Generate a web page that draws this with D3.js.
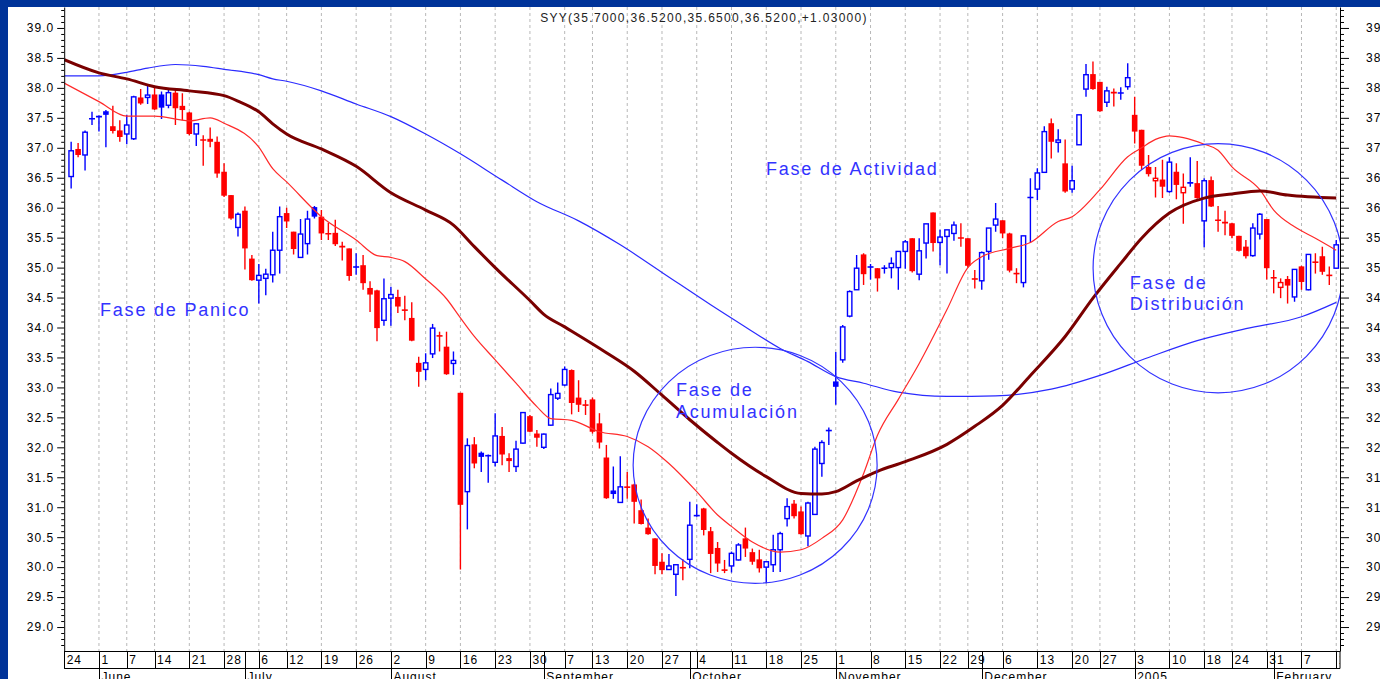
<!DOCTYPE html>
<html><head><meta charset="utf-8">
<script src="https://cdn.jsdelivr.net/npm/d3@7"></script>
<style>
html,body{margin:0;padding:0;background:#fff;overflow:hidden}
svg{display:block}
</style></head><body>
<svg id="c" width="1380" height="679"></svg>
<script>
// ---------------- DATA ----------------
const title = "SYY(35.7000,36.5200,35.6500,36.5200,+1.03000)";
const startDate = "2004-05-24", endDate = "2005-02-14";
const holidays = ["2004-05-31","2004-06-11","2004-07-05","2004-09-06","2004-11-25","2004-12-24","2005-01-17"];
const firstCandleIndex = 1; // candles start on 2004-05-25
const monthLabels = ["2005","February","March","April","May","June","July","August","September","October","November","December"];

const opens = [36.52,36.98,36.88,37.47,37.51,37.61,37.36,37.29,37.23,37.15,
37.84,37.84,37.89,37.89,37.71,37.92,37.70,37.59,37.23,37.14,
37.15,37.10,36.60,36.21,35.67,35.95,35.15,34.79,34.82,34.88,
35.29,35.91,35.60,35.17,35.40,36.01,35.85,35.58,35.58,35.36,
35.32,35.00,35.04,34.66,34.62,34.12,34.49,34.51,34.30,34.16,
33.41,33.30,33.56,33.87,33.68,33.40,32.91,31.26,32.05,31.91,
31.85,31.75,32.19,31.82,31.68,32.07,32.52,32.23,32.00,32.37,
32.82,33.04,33.29,32.83,32.72,32.80,32.40,31.83,31.28,31.08,
31.35,31.38,30.95,30.66,30.48,30.09,29.96,29.88,30.00,30.13,
30.85,30.98,30.60,30.32,29.96,30.02,30.12,30.48,30.25,30.13,
30.00,30.04,30.29,30.81,31.06,30.93,30.52,30.88,31.73,32.27,
33.10,33.46,34.19,34.63,35.22,35.00,34.99,34.98,35.00,35.00,
35.27,35.49,34.89,35.41,35.92,35.42,35.52,35.57,35.50,35.49,
34.82,34.78,35.27,35.71,35.79,35.57,34.91,34.75,36.16,36.31,
36.59,37.41,37.09,36.74,36.31,37.05,37.98,38.23,38.10,37.76,
37.93,37.90,38.02,37.55,37.30,36.68,36.45,36.47,36.27,36.60,
36.25,36.40,36.41,35.78,36.46,35.80,35.76,35.74,35.53,35.35,
35.20,35.56,35.81,34.84,34.67,34.81,34.51,35.02,34.63,35.10,
35.19,34.88,34.99];
const highs = [37.10,37.08,37.29,37.60,37.54,37.63,37.70,37.46,37.55,37.87,
37.98,38.04,38.02,37.94,37.97,37.97,37.91,37.60,37.41,37.21,
37.34,37.19,36.74,36.21,35.92,36.02,35.21,35.06,34.98,35.60,
36.02,36.00,35.60,35.81,35.95,36.03,35.96,35.75,35.80,35.43,
35.32,35.24,35.21,34.77,34.63,34.82,34.68,34.63,34.53,34.42,
33.51,33.57,34.06,33.93,33.93,33.60,32.91,32.15,32.17,31.93,
31.88,32.57,32.34,31.90,32.11,32.59,32.54,32.29,32.23,32.98,
33.08,33.35,33.30,33.12,32.79,32.83,32.57,32.04,31.68,31.85,
31.59,31.39,31.13,30.81,30.48,30.23,30.22,30.04,30.13,31.09,
31.05,30.99,30.67,30.42,30.12,30.26,30.40,30.66,30.31,30.29,
30.10,30.54,30.59,31.15,31.12,31.01,31.09,32.01,32.12,32.33,
33.59,34.04,34.62,35.21,35.24,35.06,34.99,35.04,35.17,35.27,
35.46,35.49,35.49,35.73,35.92,35.63,35.63,35.77,35.74,35.49,
34.96,35.27,35.66,36.08,35.79,35.58,34.99,35.53,36.49,36.66,
37.36,37.49,37.31,37.14,36.70,37.55,38.40,38.44,38.10,38.02,
37.99,38.01,38.41,37.85,37.30,36.88,36.68,36.80,36.84,36.74,
36.57,36.84,36.78,36.49,36.52,36.03,35.95,35.75,35.53,35.46,
35.74,35.91,35.81,34.96,34.82,34.86,34.97,35.03,35.22,35.24,
35.35,35.02,35.46];
const lows = [36.32,36.84,36.62,37.38,37.27,37.01,37.24,37.10,37.06,37.13,
37.72,37.73,37.63,37.48,37.66,37.38,37.46,37.21,37.03,36.70,
37.01,36.50,36.18,35.80,35.52,34.97,34.78,34.40,34.54,34.75,
34.90,35.66,35.22,35.16,35.22,35.82,35.46,35.46,35.36,35.12,
34.78,34.88,34.63,34.26,33.77,34.03,34.03,34.24,34.12,33.77,
33.01,33.12,33.49,33.60,33.21,33.21,29.96,30.63,31.65,31.59,
31.41,31.68,31.70,31.59,31.59,32.06,32.25,32.01,31.97,32.36,
32.79,33.02,32.55,32.59,32.54,32.23,31.98,31.14,31.14,31.07,
31.14,30.73,30.71,30.54,29.88,29.88,29.96,29.52,29.78,29.98,
30.84,30.53,29.90,29.92,29.90,29.91,30.11,30.17,30.04,29.91,
29.73,29.92,29.92,30.68,30.81,30.54,30.35,30.87,31.51,32.04,
32.71,33.41,34.17,34.63,34.71,34.80,34.60,34.90,34.82,34.63,
34.98,34.92,34.79,35.15,35.27,35.04,34.90,35.45,35.35,35.00,
34.65,34.63,35.13,35.60,35.49,34.92,34.74,34.67,35.41,36.13,
36.58,36.82,36.92,36.25,36.25,37.05,37.85,37.97,37.60,37.68,
37.69,37.80,37.97,37.07,36.63,36.52,36.17,36.16,36.25,36.14,
35.73,36.35,36.15,35.34,36.01,35.60,35.54,35.49,35.27,35.15,
35.18,35.47,34.80,34.57,34.49,34.40,34.43,34.63,34.62,34.90,
34.88,34.71,34.98];
const closes = [36.95,36.88,37.26,37.50,37.53,37.55,37.28,37.18,37.38,37.85,
37.74,37.88,37.64,37.67,37.92,37.66,37.63,37.23,37.40,37.12,
37.10,36.57,36.20,35.82,35.89,35.32,34.79,34.87,34.89,35.29,
35.85,35.77,35.31,35.56,35.81,35.85,35.57,35.55,35.39,35.34,
34.86,35.02,34.74,34.55,33.99,34.48,34.55,34.35,34.28,33.78,
33.26,33.41,33.99,33.85,33.22,33.45,31.04,32.03,31.73,31.84,
31.87,32.19,31.88,31.77,31.97,32.58,32.26,32.16,32.22,32.88,
32.90,33.30,32.74,32.71,32.69,32.26,32.08,31.15,31.22,31.34,
31.32,31.09,30.72,30.55,30.02,29.95,30.02,30.04,29.98,30.70,
30.87,30.62,30.22,30.06,29.94,30.23,30.37,30.31,30.09,29.98,
30.09,30.29,30.56,31.01,30.85,30.55,31.07,31.97,32.08,32.29,
33.01,34.01,34.60,34.99,34.89,35.02,34.82,35.00,35.07,35.27,
35.43,34.94,35.28,35.73,35.41,35.51,35.63,35.71,35.49,35.03,
34.80,35.25,35.66,35.81,35.57,34.95,34.89,35.53,36.18,36.58,
37.27,37.10,37.13,36.27,36.45,37.55,38.22,37.98,37.61,37.95,
37.91,37.93,38.17,37.27,36.70,36.56,36.49,36.35,36.76,36.38,
36.34,36.43,36.16,36.45,36.02,35.78,35.74,35.53,35.28,35.19,
35.66,35.89,34.99,34.82,34.75,34.70,34.97,34.76,35.22,35.08,
34.93,34.86,35.38];

// moving averages (trading-day index, value)
const maFastDays = [0,5,9,13,18,21,23,28,30,32,37,42,45,47,49,52,55,57,59,62,65,68,70,73,77,81,84,87,91,94,96,99,103,106,109,112,115,117,120,123,127,130,132,136,139,143,145,149,153,155,157,159,161,164,166,168,172,174,177,180,183];
const maFastValues = [38.08,37.77,37.53,37.53,37.45,37.50,37.41,37.01,36.65,36.43,35.85,35.46,35.20,35.17,35.10,34.81,34.48,34.16,33.85,33.46,33.07,32.68,32.48,32.45,32.26,32.18,32.01,31.73,31.26,30.87,30.68,30.42,30.25,30.29,30.48,30.79,31.56,32.20,32.80,33.40,34.30,35.00,35.18,35.32,35.42,35.77,35.85,36.30,36.85,37.00,37.14,37.20,37.17,37.06,36.96,36.68,36.30,35.96,35.68,35.49,35.29];
const maMidDays = [0,5,9,13,18,23,25,28,30,32,37,42,47,52,56,59,62,67,69,72,78,82,86,90,94,96,101,106,109,111,114,117,121,127,131,135,139,144,148,152,155,159,164,168,172,176,183];
const maMidValues = [38.47,38.25,38.15,38.02,37.95,37.87,37.78,37.60,37.40,37.23,36.98,36.69,36.25,35.96,35.71,35.35,35.00,34.45,34.22,34.01,33.58,33.27,32.87,32.46,32.08,31.90,31.51,31.23,31.22,31.26,31.44,31.60,31.76,32.05,32.35,32.70,33.20,33.85,34.49,35.07,35.49,35.91,36.16,36.23,36.28,36.21,36.16];
const maSlowDays = [0,5,9,12,16,20,23,28,30,32,37,42,47,52,57,63,68,74,80,86,93,98,103,107,111,115,120,127,134,142,149,156,163,170,178,183];
const maSlowValues = [38.20,38.20,38.26,38.33,38.39,38.36,38.31,38.22,38.15,38.11,37.95,37.73,37.52,37.23,36.90,36.46,36.10,35.78,35.38,34.92,34.38,34.01,33.65,33.43,33.18,33.07,32.92,32.85,32.86,32.97,33.20,33.50,33.78,33.98,34.18,34.42];

// annotation ellipses: centre (day index, price), radii (days, price)
const ellipses = [
  {cx: 99.4, cy: 31.70, rx: 17.55, ry: 1.97},
  {cx: 166.0, cy: 34.99, rx: 17.98, ry: 2.08}
];
const notes = [
  {d: 5.15,  p: 34.19, lines: ["Fase de Panico"]},
  {d: 100.96, p: 36.55, lines: ["Fase de Actividad"]},
  {d: 88.0,  p: 32.85, lines: ["Fase de", "Acumulación"]},
  {d: 153.3, p: 34.65, lines: ["Fase de", "Distribución"]}
];

// ---------------- CHART ----------------
const W = 1380, H = 679;
const FONT = '"Liberation Sans", Arial, sans-serif';
const svg = d3.select("#c");
svg.append("rect").attr("width", W).attr("height", H).attr("fill", "#003399");
svg.append("rect").attr("x", 8).attr("y", 7).attr("width", W - 8).attr("height", H - 7).attr("fill", "#fff");

const parse = d3.utcParse("%Y-%m-%d"), fmt = d3.utcFormat("%Y-%m-%d");
const hol = new Set(holidays);
const days = d3.utcDays(parse(startDate), d3.utcDay.offset(parse(endDate), 1))
  .filter(d => d.getUTCDay() !== 0 && d.getUTCDay() !== 6 && !hol.has(fmt(d)));

const plotL = 64.2, plotR = 1340, plotT = 7, plotB = 651;
const x = d3.scaleLinear().domain([0, days.length - 1 + 0.54]).range([plotL, plotR]);
const y = d3.scaleLinear().domain([28.6, 39.35]).range([plotB, plotT]);

const weekStarts = [], monthStarts = [];
days.forEach((d, i) => {
  if (i === 0) { weekStarts.push(i); return; }
  const p = days[i - 1];
  if (d.getUTCDay() <= p.getUTCDay() || (d - p) >= 7 * 864e5) weekStarts.push(i);
  if (d.getUTCMonth() !== p.getUTCMonth()) monthStarts.push(i);
});

svg.append("clipPath").attr("id", "plot").append("rect")
  .attr("x", plotL).attr("y", plotT).attr("width", plotR - plotL).attr("height", plotB - plotT);
svg.append("clipPath").attr("id", "xrow").append("rect")
  .attr("x", plotL).attr("y", plotB).attr("width", plotR - plotL).attr("height", H - plotB);

// dashed week grid
svg.append("g").selectAll("line").data(weekStarts.filter(i => i > 0)).join("line")
  .attr("x1", i => x(i)).attr("x2", i => x(i)).attr("y1", plotT).attr("y2", plotB)
  .attr("stroke", "#b8b8b8").attr("stroke-width", 1).attr("stroke-dasharray", "3,3");

// candles
const candles = opens.map((o, k) => {
  const i = k + firstCandleIndex;
  const prev = k > 0 ? closes[k - 1] : -Infinity;
  return {i, o, h: highs[k], l: lows[k], c: closes[k],
          col: closes[k] >= prev ? "#0000ff" : "#ff0000", hollow: closes[k] > o};
});
const gc = svg.append("g").attr("clip-path", "url(#plot)");
const cg = gc.selectAll("g.c").data(candles).join("g");
cg.append("line")
  .attr("x1", d => x(d.i)).attr("x2", d => x(d.i))
  .attr("y1", d => y(Math.max(d.h, d.o, d.c))).attr("y2", d => y(Math.min(d.l, d.o, d.c)))
  .attr("stroke", d => d.col).attr("stroke-width", 1.4);
cg.each(function(d) {
  const g = d3.select(this);
  const top = y(Math.max(d.o, d.c)), bot = y(Math.min(d.o, d.c));
  const cx = x(d.i);
  if (bot - top < 2) {
    g.append("line").attr("x1", cx - 3).attr("x2", cx + 3)
      .attr("y1", (top + bot) / 2).attr("y2", (top + bot) / 2)
      .attr("stroke", d.col).attr("stroke-width", 1.6);
  } else if (d.hollow) {
    g.append("rect").attr("x", cx - 2.2).attr("width", 4.4).attr("y", top).attr("height", bot - top)
      .attr("fill", "#fff").attr("stroke", d.col).attr("stroke-width", 1.4);
  } else {
    g.append("rect").attr("x", cx - 2.8).attr("width", 5.6).attr("y", top).attr("height", bot - top)
      .attr("fill", d.col);
  }
});

// moving averages
const line = d3.line().x(d => x(d[0])).y(d => y(d[1])).curve(d3.curveMonotoneX);
const gm = svg.append("g").attr("clip-path", "url(#plot)").attr("fill", "none");
gm.append("path").attr("d", line(d3.zip(maSlowDays, maSlowValues))).attr("stroke", "#2b2bff").attr("stroke-width", 1.2);
gm.append("path").attr("d", line(d3.zip(maFastDays, maFastValues))).attr("stroke", "#ff2a2a").attr("stroke-width", 1.2);
gm.append("path").attr("d", line(d3.zip(maMidDays, maMidValues))).attr("stroke", "#7a0000").attr("stroke-width", 3);

// ellipses
gm.selectAll("ellipse").data(ellipses).join("ellipse")
  .attr("cx", e => x(e.cx)).attr("cy", e => y(e.cy))
  .attr("rx", e => x(e.cx + e.rx) - x(e.cx)).attr("ry", e => y(e.cy - e.ry) - y(e.cy))
  .attr("stroke", "#3333ff").attr("stroke-width", 1.2);

// notes
const gn = svg.append("g").attr("font-family", FONT).attr("font-size", 18)
  .attr("fill", "#3333ff").attr("letter-spacing", "1.8px");
notes.forEach(n => {
  n.lines.forEach((t, j) => {
    gn.append("text").attr("x", x(n.d)).attr("y", y(n.p) + j * 21.5).text(t);
  });
});

// y axes
const major = d3.range(58, 79).map(v => v / 2);
const minor = d3.range(287, 394).map(v => v / 10).filter(v => Math.abs(v * 2 - Math.round(v * 2)) > 1e-6);
function styleAxis(g) {
  g.attr("font-family", FONT).attr("font-size", 12);
  g.selectAll("text").attr("fill", "#000").attr("letter-spacing", "1px");
  g.selectAll("line,path").attr("stroke", "#000");
}
svg.append("g").attr("transform", `translate(${plotL},0)`)
  .call(d3.axisLeft(y).tickValues(major).tickSize(7).tickSizeOuter(0).tickPadding(3).tickFormat(d3.format(".1f")))
  .call(styleAxis);
svg.append("g").attr("transform", `translate(${plotL},0)`)
  .call(d3.axisLeft(y).tickValues(minor).tickSize(3).tickFormat(""))
  .call(g => g.select(".domain").remove()).call(styleAxis);
svg.append("g").attr("transform", `translate(${plotR},0)`)
  .call(d3.axisRight(y).tickValues(major).tickSize(9).tickSizeOuter(0).tickPadding(17).tickFormat(d3.format(".1f")))
  .call(styleAxis);
svg.append("g").attr("transform", `translate(${plotR},0)`)
  .call(d3.axisRight(y).tickValues(minor).tickSize(4).tickFormat(""))
  .call(g => g.select(".domain").remove()).call(styleAxis);

// x axis rows
const gx = svg.append("g").attr("stroke", "#000").attr("stroke-width", 1);
gx.append("line").attr("x1", plotL).attr("x2", plotR).attr("y1", plotB + 0.5).attr("y2", plotB + 0.5);
gx.append("line").attr("x1", plotL).attr("x2", plotR).attr("y1", 668.5).attr("y2", 668.5);
gx.append("line").attr("x1", plotR).attr("x2", plotR).attr("y1", plotB).attr("y2", 668.5);
const seps = Array.from(new Set(weekStarts.concat(monthStarts))).sort((a, b) => a - b);
gx.selectAll("line.s").data(seps).join("line").attr("class", "s")
  .attr("x1", i => Math.round(x(i)) + 0.5).attr("x2", i => Math.round(x(i)) + 0.5)
  .attr("y1", plotB).attr("y2", 668.5);
gx.selectAll("line.m").data(monthStarts).join("line").attr("class", "m")
  .attr("x1", i => Math.round(x(i)) + 0.5).attr("x2", i => Math.round(x(i)) + 0.5)
  .attr("y1", 668.5).attr("y2", H);

const gxt = svg.append("g").attr("clip-path", "url(#xrow)").attr("font-family", FONT)
  .attr("font-size", 12).attr("fill", "#000").attr("letter-spacing", "1px");
gxt.selectAll("text.d").data(weekStarts).join("text").attr("class", "d")
  .attr("x", i => x(i) + 2.5).attr("y", 664).text(i => days[i].getUTCDate());
gxt.selectAll("text.m").data(monthStarts).join("text").attr("class", "m")
  .attr("x", i => x(i) + 2.5).attr("y", 681).text(i => monthLabels[days[i].getUTCMonth()]);

// title
svg.append("text").attr("x", 704).attr("y", 21.5).attr("text-anchor", "middle")
  .attr("font-family", FONT).attr("font-size", 12).attr("letter-spacing", "1.3px")
  .attr("fill", "#222").text(title);
</script>
</body></html>
